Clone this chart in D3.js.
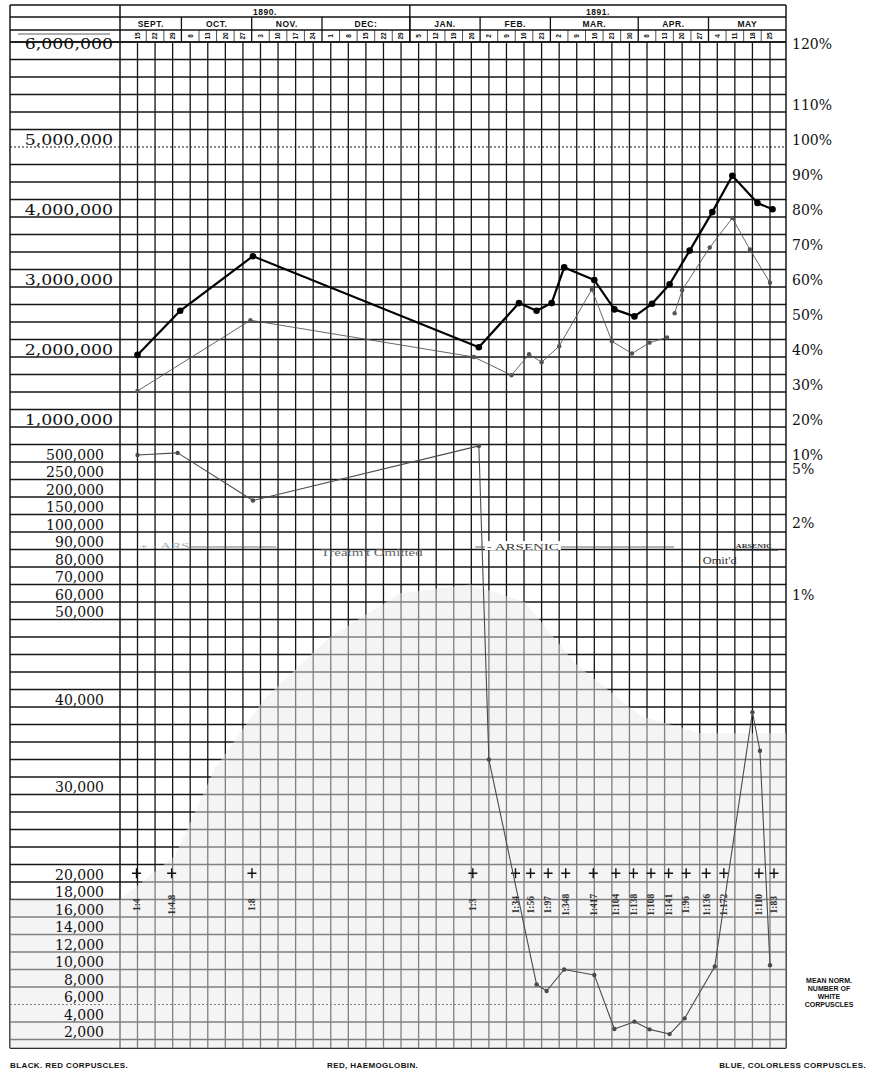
<!DOCTYPE html>
<html>
<head>
<meta charset="utf-8">
<script src="https://cdn.jsdelivr.net/npm/d3@7"></script>
<style>
  body { margin: 0; background: #fff; }
  svg { display: block; }
  .num { font-family: "DejaVu Serif", "Liberation Serif", serif; font-size: 14px; fill: #111; }
  .hdr { font-family: "Liberation Sans", "DejaVu Sans", sans-serif; font-weight: bold; fill: #111; }
  .note { font-family: "Liberation Serif", "DejaVu Serif", serif; fill: #333; }
</style>
</head>
<body>
<svg></svg>
<script>
// weekly columns of the sheet
const weeks = ["1890-09-15","1890-09-22","1890-09-29","1890-10-06","1890-10-13","1890-10-20","1890-10-27",
  "1890-11-03","1890-11-10","1890-11-17","1890-11-24","1890-12-01","1890-12-08","1890-12-15","1890-12-22","1890-12-29",
  "1891-01-05","1891-01-12","1891-01-19","1891-01-26","1891-02-02","1891-02-09","1891-02-16","1891-02-23",
  "1891-03-02","1891-03-09","1891-03-16","1891-03-23","1891-03-30","1891-04-06","1891-04-13","1891-04-20","1891-04-27",
  "1891-05-04","1891-05-11","1891-05-18","1891-05-25"];
const monthNames = ["SEPT.","OCT.","NOV.","DEC:","JAN.","FEB.","MAR.","APR.","MAY"];
const yearNames = ["1890.","1891."];

// black: red corpuscles (millions)
const redDates = ["1890-09-15","1890-10-02","1890-10-31","1891-01-29","1891-02-14","1891-02-21","1891-02-27",
  "1891-03-04","1891-03-16","1891-03-24","1891-04-01","1891-04-08","1891-04-15","1891-04-23","1891-05-02",
  "1891-05-10","1891-05-20","1891-05-26"];
const redValues = [2.03,2.66,3.44,2.14,2.77,2.66,2.77,3.28,3.10,2.68,2.58,2.76,3.04,3.52,4.07,4.59,4.20,4.11];

// red: haemoglobin (%), null = break in the line
const hbDates = ["1890-09-15","1890-10-30","1891-01-27","1891-02-11","1891-02-18","1891-02-23","1891-03-02",
  "1891-03-15","1891-03-23","1891-03-31","1891-04-07","1891-04-14","1891-04-16","1891-04-17","1891-04-20",
  "1891-05-01","1891-05-10","1891-05-17","1891-05-25"];
const hbValues = [30.3,50.5,40,34.8,40.8,38.5,43.1,59.3,44.5,41,44.1,45.6,null,52.5,59.1,71.3,79.7,70.7,61.2];

// blue: colorless corpuscles (per cmm)
const whiteDates = ["1890-09-15","1890-10-01","1890-10-31","1891-01-29","1891-02-02","1891-02-21","1891-02-25",
  "1891-03-04","1891-03-16","1891-03-24","1891-04-01","1891-04-07","1891-04-15","1891-04-21","1891-05-03",
  "1891-05-18","1891-05-21","1891-05-25"];
const whiteValues = [600000,630000,190000,730000,34000,8300,7540,10000,9380,3200,4040,3160,2620,4420,10340,39400,35000,10500];

// ratio white : red
const ratioDates = ["1890-09-15","1890-09-29","1890-10-31","1891-01-27","1891-02-13","1891-02-19","1891-02-26",
  "1891-03-05","1891-03-16","1891-03-25","1891-04-01","1891-04-08","1891-04-15","1891-04-22","1891-04-30",
  "1891-05-07","1891-05-21","1891-05-27"];
const ratioLabels = ["1:4","1:4.8","1:8","1:3","1:34","1:56","1:97","1:348","1:417","1:104","1:138","1:108",
  "1:141","1:96","1:136","1:172","1:110","1:83"];

// scale labels
const redTicks = [6000000,5000000,4000000,3000000,2000000,1000000];
const whiteTicks = [500000,250000,200000,150000,100000,90000,80000,70000,60000,50000,40000,30000,20000,
  18000,16000,14000,12000,10000,8000,6000,4000,2000];
const hbTicks = [120,110,100,90,80,70,60,50,40,30,20,10,5,2,1];

const W = 871, H = 1073;
const svg = d3.select("svg").attr("width", W).attr("height", H);
const parse = d3.timeParse("%Y-%m-%d");
const fmt = d3.format(",");

const gLeft = 10, gx0 = 120, gx1 = 786, gTop = 5, gy0 = 42, nRows = 57, rowH = 17.5;
const rowY = d3.scaleLinear().domain([0, nRows]).range([gy0, gy0 + nRows * rowH]);
const gBottom = rowY(57.5);

const x = d3.scaleTime()
  .domain([parse("1890-09-15"), parse("1891-05-25")])
  .range([137.5, 770]);

// the sheet uses different rulings for each quantity
const yRed = d3.scaleLinear().domain([6e6, 5e6, 1e6]).range([rowY(0.55), rowY(6), rowY(22)]);
const yHb = d3.scaleLinear().domain([120, 110, 100, 20, 10, 5, 2, 1])
  .range([rowY(0.55), rowY(4), rowY(6), rowY(22), rowY(24), rowY(24.85), rowY(27.9), rowY(32)]);
const yWhite = d3.scaleLinear()
  .domain([1000000,500000,250000,200000,150000,100000,90000,80000,70000,60000,50000,40000,30000,20000,
    18000,16000,14000,12000,10000,8000,6000,4000,2000])
  .range([22,24,25,26,27,28,29,30,31,32,33,38,43,48,49,50,51,52,53,54,55,56,57].map(rowY));

const weekDates = weeks.map(parse);

// ---------- grid ----------
const grid = svg.append("g").attr("stroke", "#161616").attr("stroke-width", 1.3);

d3.range(0, nRows + 1).forEach(r => {
  const dotted = (r === 6 || r === 55);
  grid.append("line")
    .attr("x1", gLeft).attr("x2", gx1)
    .attr("y1", rowY(r)).attr("y2", rowY(r))
    .attr("stroke-dasharray", dotted ? "2,2" : null)
    .attr("stroke-width", dotted ? 1 : 1.3);
});
grid.append("line").attr("x1", gLeft).attr("x2", gx1).attr("y1", gBottom).attr("y2", gBottom);

weekDates.forEach(d => {
  grid.append("line").attr("x1", x(d)).attr("x2", x(d)).attr("y1", gy0).attr("y2", gBottom);
});
[gLeft, gx0, gx1].forEach(v => {
  grid.append("line").attr("x1", v).attr("x2", v).attr("y1", gTop).attr("y2", gBottom)
    .attr("stroke-width", 1.5);
});

// faded patch of the print in the lower part of the sheet
const fade = [[gLeft, rowY(49)], [gx0, rowY(49)], [175, rowY(46.5)], [215, rowY(41.5)], [265, rowY(37.5)],
  [330, rowY(34)], [400, rowY(31.5)], [470, rowY(31)], [525, rowY(32)], [575, rowY(35.5)], [640, rowY(38.5)],
  [700, rowY(39.5)], [gx1, rowY(39.5)], [gx1, gBottom], [gLeft, gBottom]];
svg.append("path").attr("d", d3.line()(fade)).attr("fill", "#e9e9e9").attr("opacity", 0.5);

// ---------- header ----------
const hdr = svg.append("g");
const hRows = [gTop, 17, 30, gy0];
hRows.forEach(yy => hdr.append("line").attr("x1", gLeft).attr("x2", gx1).attr("y1", yy).attr("y2", yy)
  .attr("stroke", "#111").attr("stroke-width", 1.4));

// boundaries at the midpoint between last week of one month and first of the next
const mid = i => (x(weekDates[i - 1]) + x(weekDates[i])) / 2;
const monthStarts = [0];
weekDates.forEach((d, i) => { if (i > 0 && d.getMonth() !== weekDates[i - 1].getMonth()) monthStarts.push(i); });
const monthEdges = monthStarts.map(i => i === 0 ? gx0 : mid(i)).concat([gx1]);
const yearSplit = monthEdges[monthNames.indexOf("JAN.")];
const yearEdges = [gx0, yearSplit, gx1];

yearNames.forEach((t, i) => {
  hdr.append("text").attr("class", "hdr").attr("font-size", 8.5)
    .attr("x", (yearEdges[i] + yearEdges[i + 1]) / 2).attr("y", 14.5)
    .attr("text-anchor", "middle").attr("letter-spacing", 0.5).text(t);
});
hdr.append("line").attr("x1", yearSplit).attr("x2", yearSplit).attr("y1", gTop).attr("y2", gy0)
  .attr("stroke", "#111").attr("stroke-width", 1.4);

monthNames.forEach((t, i) => {
  hdr.append("text").attr("class", "hdr").attr("font-size", 8.5)
    .attr("x", (monthEdges[i] + monthEdges[i + 1]) / 2).attr("y", 27)
    .attr("text-anchor", "middle").attr("letter-spacing", 0.5).text(t);
  if (i > 0) hdr.append("line").attr("x1", monthEdges[i]).attr("x2", monthEdges[i])
    .attr("y1", 17).attr("y2", gy0).attr("stroke", "#111").attr("stroke-width", 1.3);
});

weekDates.forEach((d, i) => {
  if (i > 0 && !monthStarts.includes(i)) {
    hdr.append("line").attr("x1", mid(i)).attr("x2", mid(i)).attr("y1", 30).attr("y2", gy0)
      .attr("stroke", "#222").attr("stroke-width", 0.8);
  }
  hdr.append("text").attr("class", "hdr").attr("font-size", 6.5)
    .attr("transform", `translate(${x(d) + 2.3},36) rotate(-90)`)
    .attr("text-anchor", "middle").text(d.getDate());
});
hdr.append("line").attr("x1", 18).attr("x2", 110).attr("y1", 34).attr("y2", 34)
  .attr("stroke", "#333").attr("stroke-width", 0.8);

// ---------- scale labels ----------
const lab = svg.append("g");
redTicks.forEach(v => {
  lab.append("text").attr("class", "num").attr("font-size", 15)
    .attr("transform", `translate(113,${yRed(v) - 2.5}) scale(1.24,1)`)
    .attr("text-anchor", "end").text(fmt(v));
});
whiteTicks.forEach(v => {
  lab.append("text").attr("class", "num").attr("x", 104).attr("y", yWhite(v) - 2.5)
    .attr("text-anchor", "end").text(fmt(v));
});
hbTicks.forEach(v => {
  lab.append("text").attr("class", "num").attr("x", 792).attr("y", yHb(v) - 2.5)
    .attr("font-size", 14.5).text(v + "%");
});

svg.append("text").attr("class", "hdr").attr("font-size", 7)
  .attr("text-anchor", "middle").selectAll("tspan")
  .data(["MEAN NORM.", "NUMBER OF", "WHITE", "CORPUSCLES"]).join("tspan")
  .attr("x", 829).attr("y", (d, i) => 983 + i * 8).text(d => d);

// ---------- treatment notes ----------
const notes = svg.append("g").attr("class", "note");
const yNote = rowY(29) + 0.5;
const stretch = (sel, len) => sel.attr("textLength", len).attr("lengthAdjust", "spacingAndGlyphs");
stretch(notes.append("text").attr("x", x(parse("1890-09-15")) + 2).attr("y", yNote - 1).attr("font-size", 8)
  .attr("fill", "#aaa").text("+ · ARS"), 50);
notes.append("line").attr("x1", x(parse("1890-10-06"))).attr("x2", x(parse("1890-11-03")) + 16)
  .attr("y1", yNote - 3).attr("y2", yNote - 3).attr("stroke", "#555").attr("stroke-width", 0.8);
stretch(notes.append("text").attr("x", x(parse("1890-11-27"))).attr("y", yNote + 6).attr("font-size", 9.5)
  .attr("fill", "#666").text("Treatm't Omitted"), 102);
notes.append("line").attr("x1", x(parse("1891-01-26")) + 4).attr("x2", x(parse("1891-04-20")) - 8)
  .attr("y1", yNote - 3).attr("y2", yNote - 3).attr("stroke", "#444").attr("stroke-width", 0.8);
notes.append("rect").attr("x", x(parse("1891-02-02")) - 4).attr("y", yNote - 9).attr("width", 76).attr("height", 9)
  .attr("fill", "#fff");
stretch(notes.append("text").attr("x", x(parse("1891-02-02")) - 2).attr("y", yNote - 0.5).attr("font-size", 9)
  .text("- ARSENIC"), 72);
stretch(notes.append("text").attr("x", x(parse("1891-04-27")) + 3).attr("y", yNote + 14).attr("font-size", 9.5)
  .text("Omit'd"), 34);
stretch(notes.append("text").attr("x", x(parse("1891-05-11")) + 1).attr("y", yNote - 2).attr("font-size", 6.5)
  .attr("font-weight", "bold").text("ARSENIC"), 36);
notes.append("line").attr("x1", x(parse("1891-05-10"))).attr("x2", x(parse("1891-05-25")) + 8)
  .attr("y1", yNote).attr("y2", yNote).attr("stroke", "#222").attr("stroke-width", 1);

// ---------- ratio labels ----------
const rat = svg.append("g");
ratioDates.forEach((d, i) => {
  const xx = x(parse(d)) - 1, yy = rowY(47.5);
  rat.append("path").attr("d", `M${xx - 4.5},${yy}H${xx + 4.5}M${xx},${yy - 5}V${yy + 5}`)
    .attr("stroke", "#111").attr("stroke-width", 1.4);
  rat.append("text").attr("class", "note").attr("font-size", 9.5).attr("font-weight", "bold")
    .attr("fill", "#222").attr("text-anchor", "middle")
    .attr("transform", `translate(${xx + 3.3},${rowY(49.3)}) rotate(-90)`).text(ratioLabels[i]);
});

// ---------- series ----------
function series(dates, values, yScale, color, width, r) {
  const pts = dates.map((d, i) => ({ d: parse(d), v: values[i] }));
  const line = d3.line().defined(p => p.v !== null).x(p => x(p.d)).y(p => yScale(p.v));
  svg.append("path").datum(pts).attr("d", line).attr("fill", "none")
    .attr("stroke", color).attr("stroke-width", width).attr("stroke-linejoin", "round");
  svg.append("g").selectAll("circle").data(pts.filter(p => p.v !== null)).join("circle")
    .attr("cx", p => x(p.d)).attr("cy", p => yScale(p.v)).attr("r", r).attr("fill", color);
}
series(whiteDates, whiteValues, yWhite, "#4a4a4a", 1.1, 2.2);
series(hbDates, hbValues, v => yHb(v), "#555", 0.9, 2.2);
series(redDates, redValues.map(v => v * 1e6), yRed, "#000", 2.2, 3.3);

// ---------- footer ----------
const foot = svg.append("g").attr("class", "hdr").attr("font-size", 8).attr("letter-spacing", 0.4);
foot.append("text").attr("x", 10).attr("y", 1068).text("BLACK. RED CORPUSCLES.");
foot.append("text").attr("x", 327).attr("y", 1068).text("RED, HAEMOGLOBIN.");
foot.append("text").attr("x", 866).attr("y", 1068).attr("text-anchor", "end").text("BLUE, COLORLESS CORPUSCLES.");
</script>
</body>
</html>
